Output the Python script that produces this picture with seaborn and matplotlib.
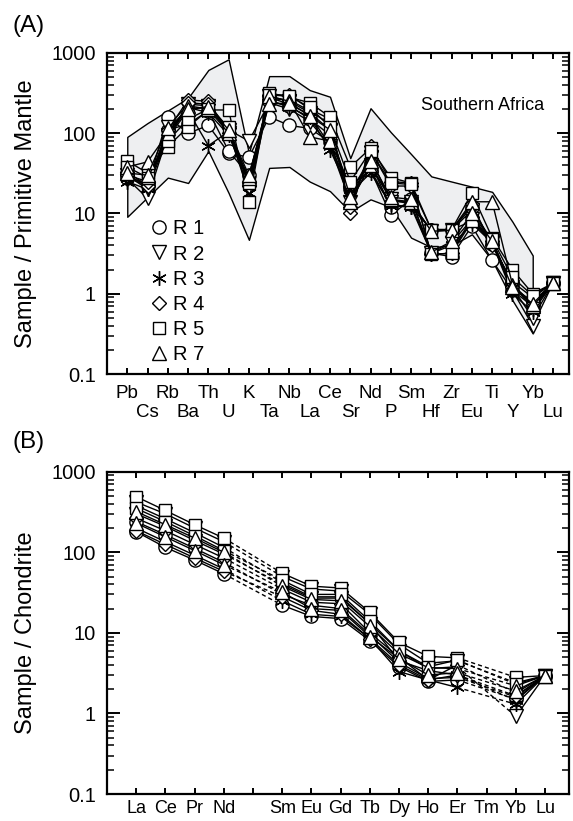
import numpy as np
import pandas as pd
import matplotlib
matplotlib.use("Agg")
import matplotlib.pyplot as plt
from matplotlib.lines import Line2D
from matplotlib.ticker import FixedLocator, LogLocator, NullFormatter
import seaborn as sns

# ---------------- data: panel A (primitive-mantle normalised) ----------------
pm_elements = ["Pb", "Cs", "Rb", "Ba", "Th", "U", "K", "Ta", "Nb", "La", "Ce",
               "Sr", "Nd", "P", "Sm", "Hf", "Zr", "Eu", "Ti", "Y", "Yb", "Lu"]

# Southern Africa field (Pb ... Yb)
band_upper = [90, 134, 192, 275, 615, 835, 56, 515, 515, 345, 285,
              49, 205, 103, 55, 29, 25, 21.6, 18.6, 7.9, 3.0]
band_lower = [9.1, 16, 28, 24, 60, 18, 4.7, 37, 38, 25, 19,
              10.5, 15, 12, 5, 3.8, 4.0, 5.5, 2.6, 0.83, 0.32]

pm_R1a = [30, 22, 160, 100, 125, 57, 50, 160, 125, 115, 78, 22, 35, 9.5, 15, 3.2, 2.9, 7.0, 2.6, 1.1, 0.7, 1.35]
pm_R1b = [28, 24, 110, 130, 190, 60, 30, 250, 220, 150, 95, 20, 42, 12, 13, 6.2, 6.3, 12, 4.2, 1.3, 0.75, 1.35]
pm_R2a = [27, 15.5, 95, 200, 210, 110, 80, 240, 200, 140, 70, 14, 40, 15, 13, 3.2, 4.3, 8.5, 4.3, 1.1, 0.4, 1.35]
pm_R2b = [30, 20, 120, 230, 220, 100, 20, 290, 250, 180, 110, 18, 50, 14, 14, 6.0, 6.2, 11, 4.6, 1.2, 0.5, 1.35]
pm_R3a = [25, 20, 90, 190, 70, 105, 18, 260, 210, 160, 62, 18, 32, 13, 12, 3.2, 4.0, 7.5, 4.3, 1.0, 0.6, 1.35]
pm_R3b = [28, 22, 100, 210, 180, 95, 26, 280, 230, 170, 70, 20, 35, 12.5, 12, 6.3, 6.3, 8.0, 4.4, 1.3, 0.65, 1.35]
pm_R4a = [33, 22, 110, 260, 250, 100, 25, 300, 300, 200, 150, 10, 70, 25, 24, 3.1, 3.2, 9.0, 4.5, 1.2, 0.8, 1.35]
pm_R4b = [30, 25, 85, 240, 230, 115, 22, 270, 260, 190, 130, 12, 60, 22, 22, 6.3, 6.3, 13, 4.0, 1.4, 0.9, 1.35]
pm_R5a = [45, 32, 68, 120, 195, 195, 14, 320, 280, 240, 160, 38, 65, 28, 24, 6.3, 6.3, 18, 5.0, 2.0, 1.0, 1.35]
pm_R5b = [38, 28, 80, 150, 200, 120, 24, 300, 290, 210, 120, 25, 60, 24, 23, 3.1, 3.2, 8.0, 4.8, 1.6, 0.95, 1.35]
pm_R7a = [38, 44, 100, 220, 200, 100, 28, 290, 250, 90, 80, 14, 40, 15, 14, 6.0, 6.2, 14, 14, 1.3, 0.7, 1.35]
pm_R7b = [32, 30, 115, 200, 215, 110, 30, 230, 240, 165, 110, 16, 45, 16, 15, 3.3, 4.5, 10, 4.5, 1.2, 0.75, 1.35]

# ---------------- data: panel B (chondrite normalised REE) ----------------
ree_elements = ["La", "Ce", "Pr", "Nd", "Pm", "Sm", "Eu", "Gd", "Tb", "Dy",
                "Ho", "Er", "Tm", "Yb", "Lu"]
ree_labels = ["La", "Ce", "Pr", "Nd", "", "Sm", "Eu", "Gd", "Tb", "Dy",
              "Ho", "Er", "Tm", "Yb", "Lu"]
nan = np.nan
ree_R1a = [240, 165, 112, 75, nan, 30, 22, 20, 9.5, 4.3, 2.7, 2.8, nan, 1.6, 2.95]
ree_R1b = [180, 115, 80, 54, nan, 22, 16, 15, 8.0, 3.8, 2.5, 2.6, nan, 1.5, 2.95]
ree_R2a = [420, 300, 200, 135, nan, 50, 35, 33, 17, 7.2, 4.2, 4.5, nan, 2.4, 2.95]
ree_R2b = [300, 210, 140, 95, nan, 40, 27, 27, 13, 6.0, 3.6, 3.8, nan, 0.92, 2.95]
ree_R3a = [380, 260, 175, 115, nan, 42, 28, 28, 13, 4.5, 3.4, 3.0, nan, 1.45, 2.95]
ree_R3b = [200, 135, 92, 62, nan, 25, 17, 16, 8.5, 3.3, 2.6, 2.1, nan, 1.3, 2.95]
ree_R4a = [265, 185, 125, 85, nan, 35, 24, 23, 10, 5.0, 2.6, 4.0, nan, 1.8, 2.95]
ree_R4b = [185, 125, 85, 58, nan, 28, 19, 17, 8.5, 4.0, 2.6, 3.0, nan, 1.65, 2.95]
ree_R5a = [490, 330, 220, 150, nan, 55, 38, 36, 18, 7.6, 5.1, 4.9, nan, 2.8, 2.95]
ree_R5b = [350, 240, 160, 105, nan, 45, 30, 30, 14, 6.0, 3.8, 4.6, nan, 2.3, 2.95]
ree_R7a = [320, 220, 150, 100, nan, 38, 26, 25, 12, 5.5, 3.7, 3.6, nan, 2.2, 2.95]
ree_R7b = [230, 155, 105, 70, nan, 32, 20, 19, 9.0, 4.8, 3.0, 3.2, nan, 1.9, 2.95]

groups = ["R 1", "R 2", "R 3", "R 4", "R 5", "R 7"]
markers = {"R 1": "o", "R 2": "v", "R 3": (6, 2, 0), "R 4": "D",
           "R 5": "s", "R 7": "^"}
msizes = {"R 1": 9.5, "R 2": 9.5, "R 3": 10.5, "R 4": 7.5, "R 5": 9.0, "R 7": 9.5}

pm_samples = [("R 1", pm_R1a), ("R 1", pm_R1b), ("R 2", pm_R2a), ("R 2", pm_R2b),
              ("R 3", pm_R3a), ("R 3", pm_R3b), ("R 4", pm_R4a), ("R 4", pm_R4b),
              ("R 5", pm_R5a), ("R 5", pm_R5b), ("R 7", pm_R7a), ("R 7", pm_R7b)]
ree_samples = [("R 1", ree_R1a), ("R 1", ree_R1b), ("R 2", ree_R2a), ("R 2", ree_R2b),
               ("R 3", ree_R3a), ("R 3", ree_R3b), ("R 4", ree_R4a), ("R 4", ree_R4b),
               ("R 5", ree_R5a), ("R 5", ree_R5b), ("R 7", ree_R7a), ("R 7", ree_R7b)]

# ---------------- style ----------------
sns.set_style("ticks")
plt.rcParams["font.family"] = ["Liberation Sans", "DejaVu Sans"]
plt.rcParams["axes.linewidth"] = 1.5
for key in ["text.color", "axes.labelcolor", "xtick.color", "ytick.color",
            "axes.edgecolor", "xtick.labelcolor", "ytick.labelcolor"]:
    plt.rcParams[key] = "black"

fig = plt.figure(figsize=(5.73, 8.21), dpi=100)
axA = fig.add_axes([107 / 573, 1 - 374 / 821, 462 / 573, 321 / 821])
axB = fig.add_axes([107 / 573, 1 - 794 / 821, 462 / 573, 322.3 / 821])
for ax in (axA, axB):
    ax.set_yscale("log")

LW = 1.0
MEW = 1.0


def draw_sample(ax, grp, df, zorder):
    sns.lineplot(data=df, x="pos", y="value", units="run", estimator=None,
                 sort=False, color="k", lw=LW, marker=markers[grp],
                 markersize=msizes[grp], markerfacecolor="white",
                 markeredgecolor="k", markeredgewidth=MEW, ax=ax,
                 legend=False, zorder=zorder)


# ----- panel A -----
posA = np.arange(len(pm_elements))
nb = len(band_upper)
axA.fill_between(posA[:nb], band_lower, band_upper, facecolor="#eeeff1",
                 edgecolor="k", lw=LW, zorder=1)
for k, (grp, vals) in enumerate(pm_samples):
    df = pd.DataFrame({"pos": posA, "value": vals, "run": 0})
    draw_sample(axA, grp, df, 3 + k * 0.01)

# ----- panel B -----
posB = np.arange(len(ree_elements))
for k, (grp, vals) in enumerate(ree_samples):
    v = np.asarray(vals, dtype=float)
    valid = ~np.isnan(v)
    run = np.cumsum(~valid)
    df = pd.DataFrame({"pos": posB, "value": v, "run": run})[valid]
    # dashed bridges across missing elements
    idx = np.where(valid)[0]
    brows = []
    for a, b in zip(idx[:-1], idx[1:]):
        if b - a > 1:
            brows += [{"pos": posB[a], "value": v[a], "run": a},
                      {"pos": posB[b], "value": v[b], "run": a}]
    if brows:
        sns.lineplot(data=pd.DataFrame(brows), x="pos", y="value", units="run",
                     estimator=None, sort=False, color="k", lw=LW,
                     linestyle=(0, (3.0, 2.2)), ax=axB, legend=False, zorder=2)
    draw_sample(axB, grp, df, 3 + k * 0.01)

# ---------------- axes formatting ----------------
for ax in (axA, axB):
    ax.set_ylim(0.1, 1000)
    ax.yaxis.set_major_locator(FixedLocator([0.1, 1, 10, 100, 1000]))
    ax.set_yticklabels(["0.1", "1", "10", "100", "1000"])
    ax.yaxis.set_minor_locator(LogLocator(base=10, subs=np.arange(2, 10), numticks=50))
    ax.yaxis.set_minor_formatter(NullFormatter())
    ax.tick_params(axis="y", which="major", direction="in", length=9, width=1.4,
                   left=True, right=True, labelsize=14.5, pad=8, colors="black")
    ax.tick_params(axis="y", which="minor", direction="in", length=5, width=1.1,
                   left=True, right=True, colors="black")
    ax.tick_params(axis="x", which="both", direction="in", length=4.5, width=1.4,
                   top=True, bottom=True, labelsize=13.5, colors="black")
    ax.set_xlabel("")
    for s in ax.spines.values():
        s.set_linewidth(1.6)
        s.set_color("black")
        s.set_visible(True)

# panel A: staggered element labels (even on the upper row, odd on the lower row)
axA.set_xlim(-1, 21.79)
axA.set_xticks(posA[::2], labels=pm_elements[::2])
axA.set_xticks(posA[1::2], labels=pm_elements[1::2], minor=True)
axA.tick_params(axis="x", which="major", pad=8)
axA.tick_params(axis="x", which="minor", pad=21.5)

axB.set_xlim(-1, 14.82)
axB.set_xticks(posB, labels=ree_labels)
axB.xaxis.set_minor_locator(FixedLocator([]))
axB.tick_params(axis="x", which="major", pad=4.0, labelsize=13)

axA.set_ylabel("Sample / Primitive Mantle", fontsize=17, color="black")
axB.set_ylabel("Sample / Chondrite", fontsize=17, color="black")
axA.yaxis.set_label_coords(-0.152, 0.5)
axB.yaxis.set_label_coords(-0.152, 0.5)

axA.text(0.679, 0.822, "Southern Africa", transform=axA.transAxes,
         fontsize=13, ha="left", va="baseline", color="black")

fig.text(13 / 573, 1 - 26 / 821, "(A)", fontsize=17.5, ha="left", va="center", color="black")
fig.text(13 / 573, 1 - 442 / 821, "(B)", fontsize=17.5, ha="left", va="center", color="black")

handles = [Line2D([], [], linestyle="none", marker=markers[g], markersize=msizes[g],
                  markerfacecolor="white", markeredgecolor="k",
                  markeredgewidth=MEW) for g in groups]
leg = axA.legend(handles, groups, loc="upper left", bbox_to_anchor=(0.092, 0.482),
                 frameon=False, fontsize=14.5, handlelength=0.95, handletextpad=0.2,
                 labelspacing=0.31, borderpad=0, borderaxespad=0, labelcolor="black")

fig.savefig("out.png", dpi=100)
